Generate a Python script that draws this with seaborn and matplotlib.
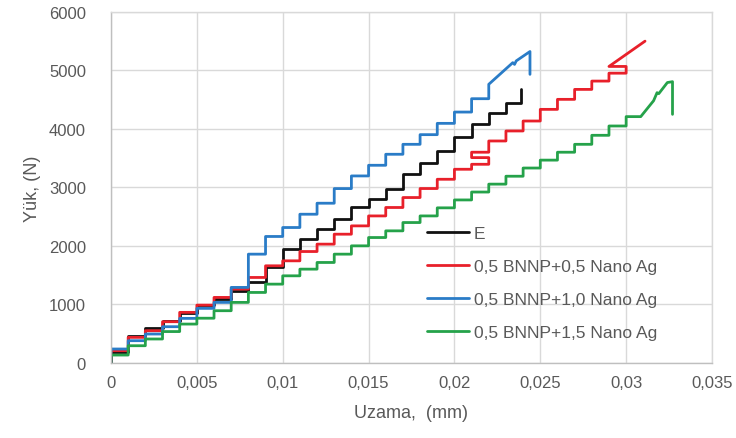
import numpy as np
import pandas as pd
import matplotlib
matplotlib.use("Agg")
import matplotlib.pyplot as plt
import seaborn as sns

# ---------------- data ----------------
series_names = ["E", "0,5 BNNP+0,5 Nano Ag", "0,5 BNNP+1,0 Nano Ag", "0,5 BNNP+1,5 Nano Ag"]
series_colors = ["#111111", "#e8202a", "#2a7cc7", "#25a24a"]

step_x = [0.000, 0.001, 0.002, 0.003, 0.004, 0.005, 0.006, 0.007, 0.008, 0.009,
          0.010, 0.011, 0.012, 0.013, 0.014, 0.015, 0.016, 0.017, 0.018, 0.019,
          0.020, 0.021, 0.022, 0.023, 0.024, 0.025, 0.026, 0.027, 0.028, 0.029,
          0.030]

# E
e_levels = [193, 466, 591, 722, 847, 989, 1092, 1223, 1387, 1643, 1944, 2115,
            2286, 2456, 2656, 2797, 2979, 3230, 3420, 3620, 3860, 4076, 4276, 4446]
e_tail_x = [0.0239, 0.0239]
e_tail_y = [4446, 4673]

# 0,5 BNNP+0,5 Nano Ag
red_levels_a = [210, 438, 551, 705, 865, 989, 1120, 1262, 1461, 1660, 1745, 1904,
                2030, 2200, 2342, 2512, 2656, 2826, 2980, 3138, 3309]
red_loop_x = [0.021, 0.022, 0.022, 0.021, 0.021, 0.022]
red_loop_y = [3394, 3394, 3508, 3508, 3600, 3600]
red_levels_b = [3792, 3963, 4133, 4332, 4503, 4673, 4815]
red_tail_x = [0.029, 0.030, 0.030, 0.029, 0.0311]
red_tail_y = [4950, 4950, 5065, 5065, 5497]

# 0,5 BNNP+1,0 Nano Ag
blue_levels = [239, 381, 495, 620, 762, 933, 1035, 1291, 1859, 2161, 2314, 2541,
               2729, 2979, 3195, 3377, 3565, 3735, 3900, 4093, 4286, 4514]
blue_tail_x = [0.022, 0.0234, 0.0235, 0.0236, 0.0244, 0.0244]
blue_tail_y = [4760, 5130, 5100, 5160, 5320, 4930]

# 0,5 BNNP+1,5 Nano Ag
green_levels = [136, 295, 410, 537, 665, 765, 893, 1035, 1205, 1347, 1489, 1603,
                1717, 1859, 2001, 2143, 2257, 2399, 2512, 2650, 2785, 2920, 3055,
                3190, 3330, 3465, 3600, 3735, 3889, 4048, 4208]
green_tail_x = [0.03085, 0.0316, 0.0318, 0.0319, 0.0324, 0.0327, 0.0327]
green_tail_y = [4208, 4480, 4617, 4600, 4790, 4805, 4247]

x_ticks = [0, 0.005, 0.01, 0.015, 0.02, 0.025, 0.03, 0.035]
x_tick_labels = ["0", "0,005", "0,01", "0,015", "0,02", "0,025", "0,03", "0,035"]
y_ticks = [0, 1000, 2000, 3000, 4000, 5000, 6000]


def stairs(edges, levels):
    xs, ys = [], []
    for i, lv in enumerate(levels):
        xs += [edges[i], edges[i + 1]]
        ys += [lv, lv]
    return xs, ys


def build(name, parts):
    xs, ys = [0.0], [0.0]
    for px, py in parts:
        xs += list(px)
        ys += list(py)
    return pd.DataFrame({"x": xs, "y": ys, "series": name})


frames = []
frames.append(build(series_names[0], [
    stairs(step_x[:len(e_levels)] + [e_tail_x[0]], e_levels),
    (e_tail_x, e_tail_y)]))
frames.append(build(series_names[1], [
    stairs(step_x[:len(red_levels_a) + 1], red_levels_a),
    (red_loop_x, red_loop_y),
    stairs(step_x[22:22 + len(red_levels_b) + 1], red_levels_b),
    (red_tail_x, red_tail_y)]))
frames.append(build(series_names[2], [
    stairs(step_x[:len(blue_levels) + 1], blue_levels),
    (blue_tail_x, blue_tail_y)]))
frames.append(build(series_names[3], [
    stairs(step_x[:len(green_levels)] + [green_tail_x[0]], green_levels),
    (green_tail_x[1:], green_tail_y[1:])]))
df = pd.concat(frames, ignore_index=True)

# ---------------- plotting ----------------
sns.set_theme(style="white")
plt.rcParams["font.family"] = ["Liberation Sans", "DejaVu Sans"]
text_color = "#595959"
grid_color = "#d9d9d9"

fig = plt.figure(figsize=(7.36, 4.39), dpi=100)
ax = fig.add_axes([111 / 736, 1 - 364 / 439, (712 - 111) / 736, (364 - 12.7) / 439])

sns.lineplot(data=df, x="x", y="y", hue="series", hue_order=series_names,
             palette=series_colors, sort=False, estimator=None, units="series",
             linewidth=2.0, ax=ax, legend=True)

ax.set_xlim(0, 0.035)
ax.set_ylim(0, 6000)
ax.set_xticks(x_ticks)
ax.set_xticklabels(x_tick_labels)
ax.set_yticks(y_ticks)
ax.set_yticklabels([str(v) for v in y_ticks])
ax.grid(True, color=grid_color, linewidth=1.0)
ax.set_axisbelow(True)
for s in ["top", "right"]:
    ax.spines[s].set_visible(True)
    ax.spines[s].set_color(grid_color)
    ax.spines[s].set_linewidth(1.0)
for s in ["left", "bottom"]:
    ax.spines[s].set_color("#bfbfbf")
    ax.spines[s].set_linewidth(1.0)
ax.tick_params(axis="both", length=0, labelsize=12, labelcolor=text_color)
ax.tick_params(axis="y", pad=18)
ax.tick_params(axis="x", pad=9)

ax.set_xlabel("Uzama,  (mm)", fontsize=13, color=text_color, labelpad=10)
ax.set_ylabel("Yük, (N)", fontsize=13, color=text_color, labelpad=6)

handles, labels = ax.get_legend_handles_labels()
ax.legend(handles, labels, loc="upper left", bbox_to_anchor=(427 / 736, 1 - 227 / 439),
          bbox_transform=fig.transFigure, frameon=False, fontsize=12.5,
          handlelength=2.4, handletextpad=0.3, labelspacing=1.02,
          borderpad=0, borderaxespad=0, labelcolor=text_color)

fig.savefig("out.png", dpi=100)
